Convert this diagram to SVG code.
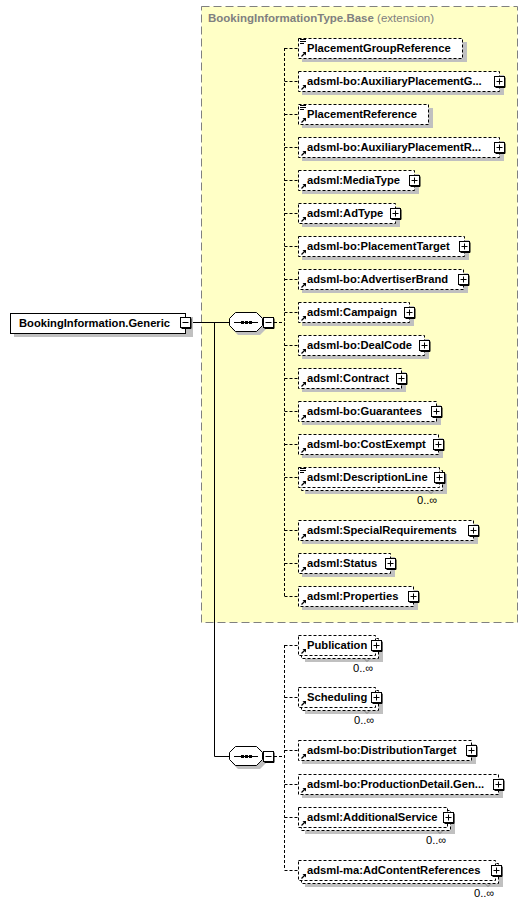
<svg xmlns="http://www.w3.org/2000/svg" width="531" height="906" viewBox="0 0 531 906">
<style>
.t{font-family:"Liberation Sans",Arial,sans-serif;font-size:11.2px;font-weight:bold;fill:#000}
.o{font-family:"Liberation Sans",Arial,sans-serif;font-size:11.2px;fill:#000}
.box{fill:#fff;stroke:#000;stroke-width:1;stroke-dasharray:3,2}
.sh{fill:#c0c0c0}
.dl{stroke:#000;stroke-width:1;stroke-dasharray:3,2;fill:none}
.sl{stroke:#000;stroke-width:1;fill:none}
</style>
<defs>
<g id="plus">
<rect x="0.5" y="0.5" width="10" height="10" fill="#fff" stroke="#000"/>
<path d="M11 1.5V11.5H1.5" stroke="#000" fill="none"/>
<path d="M2.5 5.5H8.5M5.5 2.5V8.5" stroke="#000"/>
</g>
<g id="minus">
<rect x="0.5" y="0.5" width="10" height="10" fill="#fff" stroke="#000"/>
<path d="M11 1.5V11.5H1.5" stroke="#000" fill="none"/>
<path d="M2.5 5.5H8.5" stroke="#000"/>
</g>
<g id="ref">
<path d="M3.5 8.5L7 5" stroke="#000" stroke-width="1.2"/>
<path d="M4.5 4L8 4L8 7.5Z" fill="#000"/>
</g>
<g id="simp">
<path d="M1 0.5H7M1 2.5H7M1 4.5H5" stroke="#000" stroke-width="1"/>
</g>
<g id="seq">
<polygon points="6,0 28,0 34,6 34,14 28,20 6,20 0,14 0,6" fill="#c0c0c0" transform="translate(3,3)"/>
<polygon points="6.5,0.5 27.5,0.5 33.5,6.5 33.5,13.5 27.5,19.5 6.5,19.5 0.5,13.5 0.5,6.5" fill="#fff" stroke="#000"/>
<path d="M5 10.5H29" stroke="#000"/>
<rect x="12" y="9" width="3" height="3" fill="#000"/>
<rect x="16" y="9" width="3" height="3" fill="#000"/>
<rect x="20" y="9" width="3" height="3" fill="#000"/>
</g>
</defs>

<g id="extension">
<rect x="201.5" y="6.5" width="316" height="616" fill="#ffffc6" stroke="#808080" stroke-width="1" stroke-dasharray="8,4"/>
<text x="208" y="22" style="font-family:'Liberation Sans',Arial,sans-serif;font-size:11.5px"><tspan font-weight="bold" fill="#808080">BookingInformationType.Base</tspan><tspan fill="#808080"> (extension)</tspan></text>
</g>

<g id="connectors">
<path class="sl" d="M191 322.5H229M214.5 322V756.5H229"/>
<path class="dl" d="M274 322.5H284.5M284.5 48V596"/>
<path class="dl" d="M284.5 48.5H298M284.5 81.5H298M284.5 114.5H298M284.5 147.5H298M284.5 180.5H298M284.5 213.5H298M284.5 246.5H298M284.5 279.5H298M284.5 312.5H298M284.5 345.5H298M284.5 378.5H298M284.5 411.5H298M284.5 444.5H298M284.5 477.5H298M284.5 530.5H298M284.5 563.5H298M284.5 596.5H298"/>
<path class="dl" d="M274 756.5H284.5M284.5 645V870"/>
<path class="dl" d="M284.5 645.5H298M284.5 697.5H298M284.5 750.5H298M284.5 784.5H298M284.5 817.5H298M284.5 870.5H298"/>
</g>

<g id="BookingInformation.Generic">
<rect x="14" y="317" width="179" height="20" class="sh"/>
<rect x="10.5" y="313.5" width="175" height="20" fill="#fff" stroke="#000"/>
<text x="19" y="327" class="t">BookingInformation.Generic</text>
<use href="#minus" x="180" y="317"/>
</g>

<g id="sequence1"><use href="#seq" x="229" y="312"/><use href="#minus" x="263" y="317"/></g>
<g id="sequence2"><use href="#seq" x="229" y="746"/><use href="#minus" x="263" y="751"/></g>

<g id="PlacementGroupReference">
<rect x="302" y="42" width="165" height="20" class="sh"/>
<rect x="298.5" y="38.5" width="164" height="20" class="box"/>
<use href="#simp" x="299" y="39"/><use href="#ref" x="298" y="48"/>
<text x="307" y="52" class="t">PlacementGroupReference</text>
</g>
<g id="AuxiliaryPlacementG">
<rect x="302" y="75" width="202" height="20" class="sh"/>
<rect x="298.5" y="71.5" width="201" height="20" class="box"/>
<use href="#ref" x="298" y="81"/>
<text x="307" y="85" class="t">adsml-bo:AuxiliaryPlacementG...</text>
<use href="#plus" x="494" y="76"/>
</g>
<g id="PlacementReference">
<rect x="302" y="108" width="131" height="20" class="sh"/>
<rect x="298.5" y="104.5" width="130" height="20" class="box"/>
<use href="#simp" x="299" y="105"/><use href="#ref" x="298" y="114"/>
<text x="307" y="118" class="t">PlacementReference</text>
</g>
<g id="AuxiliaryPlacementR">
<rect x="302" y="141" width="202" height="20" class="sh"/>
<rect x="298.5" y="137.5" width="201" height="20" class="box"/>
<use href="#ref" x="298" y="147"/>
<text x="307" y="151" class="t">adsml-bo:AuxiliaryPlacementR...</text>
<use href="#plus" x="494" y="142"/>
</g>
<g id="MediaType">
<rect x="302" y="174" width="117" height="20" class="sh"/>
<rect x="298.5" y="170.5" width="116" height="20" class="box"/>
<use href="#ref" x="298" y="180"/>
<text x="307" y="184" class="t">adsml:MediaType</text>
<use href="#plus" x="409" y="175"/>
</g>
<g id="AdType">
<rect x="302" y="207" width="98" height="20" class="sh"/>
<rect x="298.5" y="203.5" width="97" height="20" class="box"/>
<use href="#ref" x="298" y="213"/>
<text x="307" y="217" class="t">adsml:AdType</text>
<use href="#plus" x="390" y="208"/>
</g>
<g id="PlacementTarget">
<rect x="302" y="240" width="167" height="20" class="sh"/>
<rect x="298.5" y="236.5" width="166" height="20" class="box"/>
<use href="#ref" x="298" y="246"/>
<text x="307" y="250" class="t">adsml-bo:PlacementTarget</text>
<use href="#plus" x="459" y="241"/>
</g>
<g id="AdvertiserBrand">
<rect x="302" y="273" width="166" height="20" class="sh"/>
<rect x="298.5" y="269.5" width="165" height="20" class="box"/>
<use href="#ref" x="298" y="279"/>
<text x="307" y="283" class="t">adsml-bo:AdvertiserBrand</text>
<use href="#plus" x="458" y="274"/>
</g>
<g id="Campaign">
<rect x="302" y="306" width="112" height="20" class="sh"/>
<rect x="298.5" y="302.5" width="111" height="20" class="box"/>
<use href="#ref" x="298" y="312"/>
<text x="307" y="316" class="t">adsml:Campaign</text>
<use href="#plus" x="404" y="307"/>
</g>
<g id="DealCode">
<rect x="302" y="339" width="127" height="20" class="sh"/>
<rect x="298.5" y="335.5" width="126" height="20" class="box"/>
<use href="#ref" x="298" y="345"/>
<text x="307" y="349" class="t">adsml-bo:DealCode</text>
<use href="#plus" x="419" y="340"/>
</g>
<g id="Contract">
<rect x="302" y="372" width="104" height="20" class="sh"/>
<rect x="298.5" y="368.5" width="103" height="20" class="box"/>
<use href="#ref" x="298" y="378"/>
<text x="307" y="382" class="t">adsml:Contract</text>
<use href="#plus" x="396" y="373"/>
</g>
<g id="Guarantees">
<rect x="302" y="405" width="139" height="20" class="sh"/>
<rect x="298.5" y="401.5" width="138" height="20" class="box"/>
<use href="#ref" x="298" y="411"/>
<text x="307" y="415" class="t">adsml-bo:Guarantees</text>
<use href="#plus" x="431" y="406"/>
</g>
<g id="CostExempt">
<rect x="302" y="438" width="141" height="20" class="sh"/>
<rect x="298.5" y="434.5" width="140" height="20" class="box"/>
<use href="#ref" x="298" y="444"/>
<text x="307" y="448" class="t">adsml-bo:CostExempt</text>
<use href="#plus" x="433" y="439"/>
</g>
<g id="DescriptionLine">
<rect x="305" y="474" width="142" height="20" class="sh"/>
<rect x="301.5" y="470.5" width="141" height="20" class="box"/>
<rect x="298.5" y="467.5" width="141" height="20" class="box"/>
<use href="#simp" x="299" y="468"/><use href="#ref" x="298" y="477"/>
<text x="307" y="481" class="t">adsml:DescriptionLine</text>
<use href="#plus" x="434" y="472"/>
<path d="M428 490.5L431 493.5L434 490.5" stroke="#808080" fill="none"/>
<text x="417" y="504" class="o">0..∞</text>
</g>
<g id="SpecialRequirements">
<rect x="302" y="524" width="176" height="20" class="sh"/>
<rect x="298.5" y="520.5" width="175" height="20" class="box"/>
<use href="#ref" x="298" y="530"/>
<text x="307" y="534" class="t">adsml:SpecialRequirements</text>
<use href="#plus" x="468" y="525"/>
</g>
<g id="Status">
<rect x="302" y="557" width="93" height="20" class="sh"/>
<rect x="298.5" y="553.5" width="92" height="20" class="box"/>
<use href="#ref" x="298" y="563"/>
<text x="307" y="567" class="t">adsml:Status</text>
<use href="#plus" x="385" y="558"/>
</g>
<g id="Properties">
<rect x="302" y="590" width="116" height="20" class="sh"/>
<rect x="298.5" y="586.5" width="115" height="20" class="box"/>
<use href="#ref" x="298" y="596"/>
<text x="307" y="600" class="t">adsml:Properties</text>
<use href="#plus" x="408" y="591"/>
</g>

<g id="Publication">
<rect x="305" y="642" width="78" height="20" class="sh"/>
<rect x="301.5" y="638.5" width="77" height="20" class="box"/>
<rect x="298.5" y="635.5" width="77" height="20" class="box"/>
<use href="#ref" x="298" y="645"/>
<text x="307" y="649" class="t">Publication</text>
<use href="#plus" x="371" y="640"/>
<path d="M364 658.5L367 661.5L370 658.5" stroke="#808080" fill="none"/>
<text x="353" y="672" class="o">0..∞</text>
</g>
<g id="Scheduling">
<rect x="305" y="694" width="78" height="20" class="sh"/>
<rect x="301.5" y="690.5" width="77" height="20" class="box"/>
<rect x="298.5" y="687.5" width="77" height="20" class="box"/>
<use href="#ref" x="298" y="697"/>
<text x="307" y="701" class="t">Scheduling</text>
<use href="#plus" x="371" y="692"/>
<path d="M364 710.5L367 713.5L370 710.5" stroke="#808080" fill="none"/>
<text x="354" y="724" class="o">0..∞</text>
</g>
<g id="DistributionTarget">
<rect x="302" y="744" width="174" height="20" class="sh"/>
<rect x="298.5" y="740.5" width="173" height="20" class="box"/>
<use href="#ref" x="298" y="750"/>
<text x="307" y="754" class="t">adsml-bo:DistributionTarget</text>
<use href="#plus" x="466" y="745"/>
</g>
<g id="ProductionDetail">
<rect x="302" y="778" width="201" height="20" class="sh"/>
<rect x="298.5" y="774.5" width="200" height="20" class="box"/>
<use href="#ref" x="298" y="784"/>
<text x="307" y="788" class="t">adsml-bo:ProductionDetail.Gen...</text>
<use href="#plus" x="493" y="779"/>
</g>
<g id="AdditionalService">
<rect x="305" y="814" width="150" height="20" class="sh"/>
<rect x="301.5" y="810.5" width="149" height="20" class="box"/>
<rect x="298.5" y="807.5" width="149" height="20" class="box"/>
<use href="#ref" x="298" y="817"/>
<text x="307" y="821" class="t">adsml:AdditionalService</text>
<use href="#plus" x="443" y="812"/>
<path d="M437 830.5L440 833.5L443 830.5" stroke="#808080" fill="none"/>
<text x="426" y="844" class="o">0..∞</text>
</g>
<g id="AdContentReferences">
<rect x="305" y="867" width="198" height="20" class="sh"/>
<rect x="301.5" y="863.5" width="197" height="20" class="box"/>
<rect x="298.5" y="860.5" width="197" height="20" class="box"/>
<use href="#ref" x="298" y="870"/>
<text x="307" y="874" class="t">adsml-ma:AdContentReferences</text>
<use href="#plus" x="491" y="865"/>
<path d="M485 883.5L488 886.5L491 883.5" stroke="#808080" fill="none"/>
<text x="474" y="897" class="o">0..∞</text>
</g>
</svg>
